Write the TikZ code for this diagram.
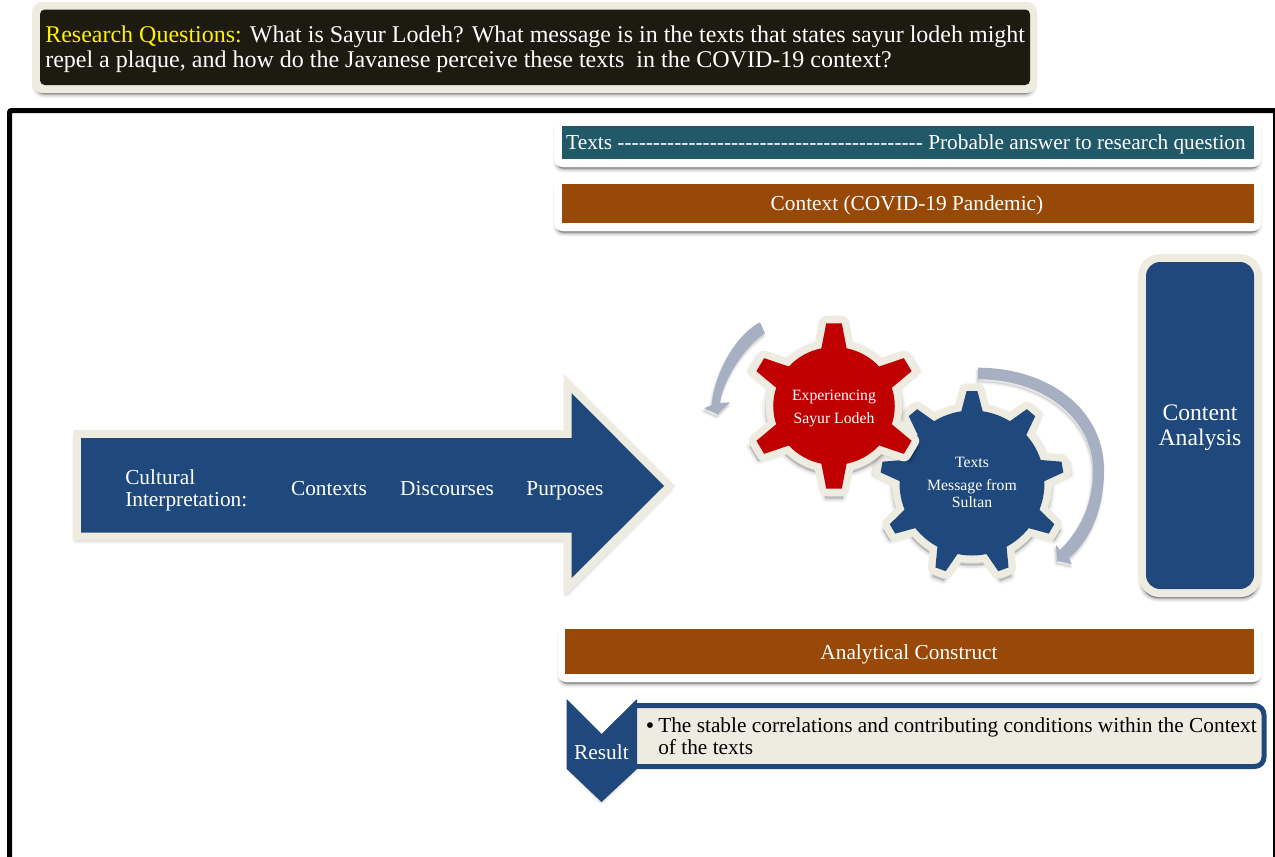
\documentclass[tikz,border=0pt]{standalone}
\usepackage{fontspec}
\setmainfont{Liberation Serif}
\newfontfamily\nolig{Liberation Serif}
\definecolor{navy}{HTML}{1F497D}
\definecolor{gearred}{HTML}{C00000}
\definecolor{brownbar}{HTML}{984807}
\definecolor{tealbar}{HTML}{215968}
\definecolor{darkbar}{HTML}{1D1B10}
\definecolor{beige}{HTML}{EEECE1}
\definecolor{slate}{HTML}{A7AFC2}
\newcommand{\softshadow}[2][3]{%
  \foreach \shw/\sho in {8/.03,5/.05,2/.08}{%
    \path[shift={(0,#1)},draw=black,fill=black,line width=\shw*0.75pt,opacity=\sho,line join=round] #2;}}
\newcommand{\softshadowR}[3][3]{%
  \foreach \shw/\sho in {8/.05,5/.09,2/.15}{%
    \path[shift={(0,#1)},draw=black,fill=black,line width=\shw*0.75pt,opacity=\sho,rounded corners=#3*0.75pt] #2;}}
\newcommand{\lightshadow}[1]{%
  \foreach \shw/\sho in {4/.03,2/.05}{%
    \path[shift={(-1,3)},draw=black,fill=black,line width=\shw*0.75pt,opacity=\sho,line join=round] #1;}}
% gear path: teeth, root r, tip R, half tip angle, half base angle, first tooth angle
\newcommand{\gearpath}[6]{%
  ({#6-#5}:#2) \foreach \gi in {0,...,\numexpr#1-1\relax}{%
    -- ({#6+\gi*360/#1-#5}:#2)
    -- ({#6+\gi*360/#1-#4}:#3)
    -- ({#6+\gi*360/#1+#4}:#3)
    -- ({#6+\gi*360/#1+#5}:#2)
    \foreach \gj in {1,...,7}{ -- ({#6+\gi*360/#1+#5+\gj*(360/#1-2*#5)/8}:#2) }
  } -- cycle}
% centre x, centre y, x stretch, teeth, root r, tip R, half tip, half base, fill (tooth one points up)
\newcommand{\gear}[9]{%
  \begin{scope}[shift={(#1,#2)},xscale=#3]
    \softshadow{\gearpath{#4}{#5+7}{#6+7}{#7}{#8}{-90}}
    \path[draw=beige,line width=11.25pt,line join=round] \gearpath{#4}{#5}{#6}{#7}{#8}{-90};
    \path[fill=#9] \gearpath{#4}{#5}{#6}{#7}{#8}{-90};
  \end{scope}}
\tikzset{
  lbl/.style={text=white,inner sep=0pt,align=center,font=\fontsize{16}{16.5}\selectfont},
  gearlbl/.style={lbl,font=\fontsize{11.8}{13}\selectfont},
  frameline/.style={draw=black,line width=3.75pt,rounded corners=1.5pt},
  beigeedge/.style={draw=beige,line width=12pt,miter limit=20},
  curvedarrow/.style={fill=slate}
}
\begin{document}
\begin{tikzpicture}[x=0.75pt,y=-0.75pt]
\clip (0,0) rectangle (1275,857);
\fill[white] (0,0) rectangle (1275,857);
% research question box
\softshadowR{(36,6) rectangle (1033,91)}{8}
\fill[beige,rounded corners=7.5pt] (32,2) rectangle (1037,93);
\fill[darkbar,rounded corners=3.5pt] (40,9.5) rectangle (1030,85);
\node[lbl,anchor=west,align=left,font=\fontsize{18}{18.75}\selectfont] (rq) at (45,49.5)
  {\textcolor{yellow}{Research Questions:} What is Sayur Lodeh? What message is in the texts that states sayur lodeh might\\repel a plaque, and how do the Javanese perceive these texts\ \ in the COVID-19 context?};
% frame
\draw[frameline] (9.5,870) -- (9.5,110.5) -- (1275.5,110.5) -- (1275.5,870);
% top bars
\softshadowR{(557,121) rectangle (1258,165.5)}{6}
\fill[white,rounded corners=6pt] (554,118) rectangle (1261,167);
\fill[tealbar] (561.5,126) rectangle (1253.5,159);
\node[lbl] (texts) at (906,144.5) {\nolig Texts ------------------------------------------- Probable answer to research question};
\softshadowR{(557,180) rectangle (1258,229.5)}{6}
\fill[white,rounded corners=6pt] (554,177) rectangle (1261,231);
\fill[brownbar] (561.5,184) rectangle (1253.5,223);
\node[lbl] (context) at (907,205.5) {Context (COVID-19 Pandemic)};
% content analysis
\softshadowR{(1142,257) rectangle (1258,595)}{16}
\path[fill=navy,draw=beige,line width=12pt,rounded corners=10.5pt] (1146,262) rectangle (1254,589);
\fill[navy,rounded corners=10.5pt] (1146,262) rectangle (1254,589);
\node[lbl,font=\fontsize{17.75}{18.75}\selectfont] (content) at (1200,428) {Content\\Analysis};
% big arrow
\softshadow{(76,434) -- (567,434) -- (567,382) -- (670,486) -- (567,590) -- (567,537) -- (76,537) -- cycle}
\path[beigeedge] (81,438) -- (571.5,438) -- (571.5,393) -- (664,486) -- (571.5,578) -- (571.5,532.5) -- (81,532.5) -- cycle;
\fill[navy] (81,438) -- (571.5,438) -- (571.5,393) -- (664,486) -- (571.5,578) -- (571.5,532.5) -- (81,532.5) -- cycle;
\node[lbl,anchor=west,align=left] (cultural) at (125,490) {Cultural\\Interpretation:};
\node[lbl,anchor=base] (contexts) at (329,495) {Contexts};
\node[lbl,anchor=base] (discourses) at (447,495) {Discourses};
\node[lbl,anchor=base] (purposes) at (565,495) {Purposes};
% curved arrows
\lightshadow{(765,333.3) .. controls (740,350) and (722,385) .. (720,403) -- (730,402.3) -- (717.7,414.3) -- (704.3,408.3) -- (711.7,405) .. controls (714,375) and (735,335) .. (760,322.3) -- cycle}
\fill[curvedarrow] (765,333.3) .. controls (740,350) and (722,385) .. (720,403) -- (730,402.3) -- (717.7,414.3) -- (704.3,408.3) -- (711.7,405) .. controls (714,375) and (735,335) .. (760,322.3) -- cycle;
\lightshadow{(978,367.7) .. controls (1050,368) and (1104,410) .. (1104,470) .. controls (1104,510) and (1090,540) .. (1069,558) -- (1071.7,564) -- (1057,561) -- (1056,545) -- (1060,550) .. controls (1080,530) and (1093,505) .. (1093,470) .. controls (1093,420) and (1045,379) .. (978,379.3) -- cycle}
\fill[curvedarrow] (978,367.7) .. controls (1050,368) and (1104,410) .. (1104,470) .. controls (1104,510) and (1090,540) .. (1069,558) -- (1071.7,564) -- (1057,561) -- (1056,545) -- (1060,550) .. controls (1080,530) and (1093,505) .. (1093,470) .. controls (1093,420) and (1045,379) .. (978,379.3) -- cycle;
% gears
\gear{972}{483}{1}{9}{72.5}{92}{3.4}{8.5}{navy}
\gear{834}{406}{1.03}{6}{59}{83}{5.2}{12}{gearred}
\node[gearlbl] (exp1) at (834,397) {Experiencing};
\node[gearlbl] (exp2) at (834,420) {Sayur Lodeh};
\node[gearlbl] (tx1) at (972,462) {Texts};
\node[gearlbl] (tx2) at (972,493.5) {Message from\\Sultan};
% analytical construct
\softshadowR{(561,626) rectangle (1258,680.5)}{6}
\fill[white,rounded corners=6pt] (558,623) rectangle (1261,682);
\fill[brownbar] (565,629) rectangle (1253.5,674);
\node[lbl] (analytical) at (909,654.5) {Analytical Construct};
% result
\path[fill=beige] (636,707) rectangle (1262,765);
\path[draw=navy,line width=3.75pt] (636,705.5) [rounded corners=7pt] -- (1264,705.5) -- (1264,766.5) [sharp corners] -- (636,766.5);
\softshadow[2]{(572,769) -- (601.5,799) -- (632,769) -- cycle}
\fill[navy] (566.7,699) -- (601.5,734) -- (637,699) -- (637,769) -- (601.5,802) -- (566.7,769) -- cycle;
\node[lbl] (result) at (601.5,752) {Result};
\node[inner sep=0pt,anchor=west,font=\fontsize{18}{18}\selectfont] (bullet) at (645.5,728) {•};
\node[inner sep=0pt,anchor=west,align=left,font=\fontsize{16}{16.5}\selectfont] (stable) at (658,736) {The stable correlations and contributing conditions within the Context\\of the texts};
\end{tikzpicture}
\end{document}
